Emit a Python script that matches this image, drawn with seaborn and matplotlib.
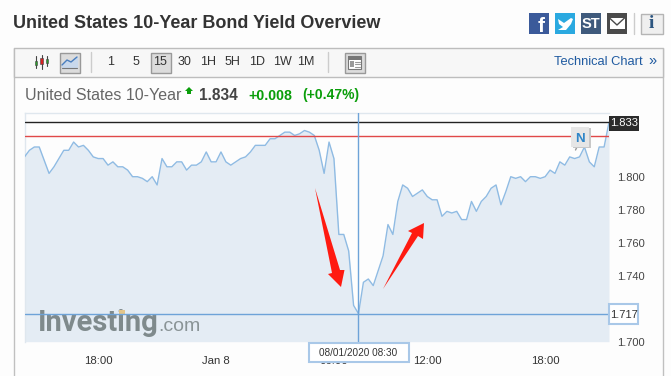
import matplotlib
matplotlib.use("Agg")
import matplotlib.pyplot as plt
from matplotlib.patches import Rectangle, Polygon
import numpy as np
import pandas as pd
import seaborn as sns

yields = [
    1.812, 1.816, 1.818, 1.818, 1.810, 1.802, 1.806, 1.811, 1.816, 1.816,
    1.821, 1.818, 1.819, 1.816, 1.812, 1.811, 1.811, 1.807, 1.809, 1.806,
    1.806, 1.804, 1.800, 1.800, 1.799, 1.797, 1.800, 1.795, 1.811, 1.806,
    1.806, 1.809, 1.809, 1.804, 1.807, 1.807, 1.809, 1.815, 1.809, 1.809,
    1.815, 1.809, 1.807, 1.809, 1.811, 1.812, 1.815, 1.819, 1.819, 1.819,
    1.823, 1.823, 1.825, 1.827, 1.827, 1.825, 1.826, 1.828, 1.827, 1.825,
    1.816, 1.802, 1.821, 1.811, 1.765, 1.765, 1.755, 1.722, 1.717, 1.736,
    1.738, 1.734, 1.743, 1.752, 1.771, 1.765, 1.785, 1.795, 1.793, 1.788,
    1.790, 1.792, 1.788, 1.786, 1.786, 1.776, 1.779, 1.778, 1.779, 1.774,
    1.774, 1.785, 1.779, 1.785, 1.788, 1.793, 1.795, 1.783, 1.791, 1.800,
    1.799, 1.800, 1.797, 1.800, 1.800, 1.799, 1.800, 1.804, 1.802, 1.809,
    1.807, 1.812, 1.811, 1.812, 1.818, 1.809, 1.806, 1.818, 1.818, 1.833,
]
bar_index = list(range(len(yields)))
x_tick_pos = [15, 39, 63, 82, 106]
x_tick_labels = ["18:00", "Jan 8", "06:00", "12:00", "18:00"]
y_tick_vals = [1.70, 1.74, 1.76, 1.78, 1.80]
y_tick_labels = ["1.700", "1.740", "1.760", "1.780", "1.800"]
last_price = 1.833
red_level = 1.8244
cursor_bar = 68
cursor_price = 1.717
cursor_label = "08/01/2020 08:30"
intervals = ["1", "5", "15", "30", "1H", "5H", "1D", "1W", "1M"]

W, H = 671, 376
sns.set_theme(style="white")
plt.rcParams["font.family"] = ["Liberation Sans", "DejaVu Sans"]
fig = plt.figure(figsize=(W / 100, H / 100), dpi=100, facecolor="#fdfdfd")

# pixel-space layers for the page furniture
bg = fig.add_axes([0, 0, 1, 1], zorder=0)
bg.set_xlim(0, W); bg.set_ylim(H, 0); bg.axis("off")
fg = fig.add_axes([0, 0, 1, 1], zorder=5)
fg.set_xlim(0, W); fg.set_ylim(H, 0); fg.axis("off"); fg.patch.set_alpha(0)

def rect(a, x0, y0, x1, y1, fc="none", ec="none", lw=1, z=2):
    a.add_patch(Rectangle((x0, y0), x1 - x0, y1 - y0, fc=fc, ec=ec, lw=lw, zorder=z))

# panel + toolbar
bg.plot([13.5, 13.5], [47.5, 376], color="#c0c0c0", lw=1)
bg.plot([662.5, 662.5], [47.5, 376], color="#c0c0c0", lw=1)
rect(bg, 13.5, 47.5, 662.5, 76.5, fc="#f7f7f7", ec="#bdbdbd")
bg.text(13, 23, "United States 10-Year Bond Yield Overview", fontsize=12.95,
        fontweight="bold", color="#333333", va="center", ha="left")

# share icons
rect(bg, 529, 13, 549, 34, fc="#3b5a9a")
bg.text(541, 26, "f", color="white", fontsize=15, fontweight="bold", ha="center", va="center")
rect(bg, 555, 13, 575, 34, fc="#2aa9e0")
bg.add_patch(Polygon([(558, 19), (564, 23), (571, 18), (573, 19), (571, 24), (566, 30), (558, 30),
                      (563, 27), (559, 24)], fc="white", ec="none", zorder=3))
rect(bg, 581, 13, 601, 34, fc="#3f5a7c")
bg.text(591, 24, "ST", color="white", fontsize=10.5, fontweight="bold", ha="center", va="center")
rect(bg, 607, 13, 627, 34, fc="#4a4a4a")
rect(bg, 609.5, 18, 624.5, 29, fc="white", z=3)
bg.plot([609.5, 617, 624.5], [18, 25, 18], color="#4a4a4a", lw=1, zorder=4)
bg.plot([633.5, 633.5], [13, 34], color="#cccccc", lw=1)
rect(bg, 640.5, 13.5, 662.5, 33.5, fc="#efefef", ec="#b5b5b5")
bg.text(651.5, 24, "i", color="#2d5680", fontsize=14, fontweight="bold", family="Liberation Serif",
        ha="center", va="center")

# toolbar icons
for cx, lo, hi, c, y0, y1 in [(36, 56, 68, "#2a9d2a", 61, 65), (41.5, 55, 69, "#d62020", 58, 64),
                              (47, 56, 66, "#2a9d2a", 59, 63)]:
    bg.plot([cx, cx], [lo, hi], color="#444444", lw=0.8, zorder=3)
    rect(bg, cx - 1.3, y0, cx + 1.3, y1, fc=c, ec="#444444", lw=0.4, z=4)
rect(bg, 59.5, 52.5, 79.5, 72.5, fc="#dcdcdc", ec="#999999")
bg.fill_between([62, 67, 71, 77], [65, 60, 62, 57], [68, 68, 68, 68], color="#c8d8ec", zorder=3)
bg.plot([62, 67, 71, 77], [65, 60, 62, 57], color="#4a7fc0", lw=1, zorder=4)
bg.plot([62, 77], [68, 68], color="#777777", lw=0.8, zorder=4)
bg.plot([90.5, 90.5], [52, 72], color="#cccccc", lw=1)
bg.plot([327.5, 327.5], [52, 72], color="#cccccc", lw=1)
rect(bg, 150.5, 52.5, 170.5, 72.5, fc="#dcdcdc", ec="#999999")
for lab, cx in zip(intervals, [111, 135.5, 160.5, 184.5, 208.5, 232.5, 257.5, 282, 306]):
    bg.text(cx, 62, lab, fontsize=9, color="#333333", ha="center", va="center", fontweight="medium")
rect(bg, 344.5, 52.5, 364.5, 72.5, fc="#dcdcdc", ec="#999999")
rect(bg, 348, 56, 361, 69, fc="white", ec="#777777", lw=0.8, z=3)
rect(bg, 348, 56, 361, 59.5, fc="#777777", z=4)
rect(bg, 349.5, 61, 353.5, 67, fc="#999999", z=4)
for yy in [61.5, 64, 66.5]:
    bg.plot([355, 360], [yy, yy], color="#999999", lw=0.8, zorder=4)
bg.text(554, 62, "Technical Chart", fontsize=9.3, color="#1f5aa0", ha="left", va="center",
        fontweight="medium")
bg.text(648, 61, "»", fontsize=10.5, color="#1f5aa0", ha="left", va="center")

# quote header
bg.text(25, 95, "United States 10-Year", fontsize=11.5, color="#666666", ha="left", va="center")
bg.add_patch(Polygon([(185, 91), (189, 87), (193, 91), (191, 91), (191, 94), (187, 94), (187, 91)],
                     fc="#0a9e0a", ec="none"))
bg.text(199, 95, "1.834", fontsize=11.2, color="#444444", fontweight="bold", ha="left", va="center")
bg.text(248, 95.5, "+0.008", fontsize=10.2, color="#0a9e0a", fontweight="bold", ha="left", va="center")
bg.text(302, 95.5, "(+0.47%)", fontsize=10, color="#0a9e0a", fontweight="bold", ha="left", va="center")

# chart
x0_px, x1_px, top_px, bot_px = 24.5, 609.0, 112.5, 341.7
ax = fig.add_axes([x0_px / W, 1 - bot_px / H, (x1_px - x0_px) / W, (bot_px - top_px) / H], zorder=2)
ax.set_facecolor("#fdfdfd")
df = pd.DataFrame({"bar": bar_index, "yield": yields})
ax.fill_between(df["bar"], df["yield"], 1.70, color="#e4ecf4", lw=0, zorder=1)
sns.lineplot(data=df, x="bar", y="yield", ax=ax, color="#8fbbe3", lw=1.0, zorder=3)
ax.set_xlim(0, len(yields) - 1)
ax.set_ylim(1.70, 1.7 + (bot_px - top_px) / 1650)
ax.axhline(last_price, color="#222222", lw=1, zorder=4)
ax.axhline(red_level, color="#e04848", lw=1, zorder=4)
ax.axhline(cursor_price, color="#6ea3d8", lw=1, zorder=4)
ax.axvline(cursor_bar, color="#6ea3d8", lw=1, zorder=4)
ax.set_xlabel(""); ax.set_ylabel("")
ax.set_xticks(x_tick_pos, x_tick_labels)
ax.yaxis.tick_right()
ax.set_yticks(y_tick_vals, y_tick_labels)
ax.tick_params(axis="x", length=0, pad=10, labelsize=8.2, labelcolor="#333333")
ax.tick_params(axis="y", length=0, pad=6, labelsize=8.0, labelcolor="#444444")
for side, sp in ax.spines.items():
    sp.set_visible(side in ("top", "left"))
    sp.set_color("#dfe7ee"); sp.set_linewidth(1)

# watermark (under the cursor line)
ax.text(38, 331, "Investing", fontsize=21, fontweight="bold", color="#7f8a8c", ha="left", va="baseline",
        family="Roboto", transform=fg.transData, zorder=2)
ax.text(158, 331, ".com", fontsize=14, color="#8a9496", ha="left", va="baseline",
        transform=fg.transData, zorder=2)
ax.add_patch(Rectangle((119, 310), 6, 4.5, fc="#e3c58a", ec="none", transform=fg.transData, zorder=2))

# red annotation arrows
fg.add_patch(Polygon([(315, 188), (332, 273), (328, 274), (341, 287), (344.5, 270), (340, 270)],
                     fc="#ff1a10", ec="none", zorder=6))
fg.add_patch(Polygon([(383, 289), (412, 233), (408, 231), (424, 223), (423, 239), (418, 236)],
                     fc="#ff1a10", ec="none", zorder=6))

# N flag
fg.plot([577, 575.5], [147, 150], color="#999999", lw=1, zorder=5)
rect(fg, 572.5, 128, 590.5, 148, fc="#c8c8c8", z=5)
rect(fg, 571, 127, 589, 146.5, fc="#e6e6e6", z=6)
fg.text(580, 139.5, "N", color="#2f86c8", fontsize=9.5, fontweight="bold", ha="center", va="center", zorder=7)

# price tags
rect(fg, 609, 116, 639, 131, fc="#2b2b2b", z=6)
fg.text(624, 123.5, "1.833", color="white", fontsize=8.0, ha="center", va="center", zorder=7, fontweight="medium")
rect(fg, 609, 304, 638, 324, fc="white", ec="#a9c8e8", lw=1.5, z=6)
fg.text(623.5, 315, "1.717", color="#333333", fontsize=8.0, ha="center", va="center", zorder=7)
rect(fg, 308.5, 342.5, 408.5, 362, fc="white", ec="#a9c8e8", lw=1.5, z=6)
fg.text(358.5, 353, cursor_label, color="#333333", fontsize=7.2, ha="center", va="center", zorder=7)

fig.savefig("out.png", dpi=100, facecolor=fig.get_facecolor())
